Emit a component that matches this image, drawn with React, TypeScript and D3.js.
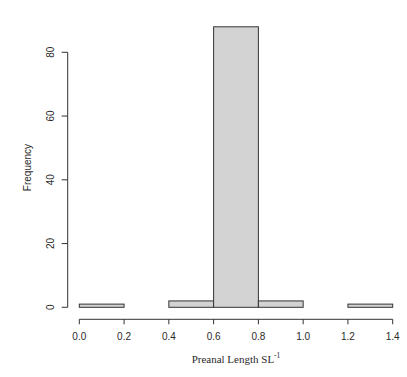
import React from "react";
import * as d3 from "d3";

// Histogram bins (left edges, width 0.2) and their counts
const binStarts = [0.0, 0.2, 0.4, 0.6, 0.8, 1.0, 1.2];
const binWidth = 0.2;
const counts = [1, 0, 2, 88, 2, 0, 1];
const xTicks = [0.0, 0.2, 0.4, 0.6, 0.8, 1.0, 1.2, 1.4];
const yTicks = [0, 20, 40, 60, 80];

const W = 407;
const H = 377;

export default function App() {
  const x = d3.scaleLinear().domain([0, 1.4]).range([79.3, 392.7]);
  const y = d3.scaleLinear().domain([0, 80]).range([307.3, 52.3]);
  const axisColor = "#333";
  const textColor = "#2a2a2a";
  const sans = "'Liberation Sans', Arial, Helvetica, sans-serif";
  const serif = "'Liberation Serif', 'Times New Roman', serif";
  const xAxisY = 319.3;
  const yAxisX = 67.7;

  return (
    <svg
      width={W}
      height={H}
      style={{ position: "absolute", left: 0, top: 0, background: "#fff" }}
    >
      {/* bars */}
      {binStarts.map((s, i) => (
        <rect
          key={i}
          x={x(s)}
          y={y(counts[i])}
          width={x(s + binWidth) - x(s)}
          height={y(0) - y(counts[i])}
          fill="#d3d3d3"
          stroke={axisColor}
          strokeWidth={1}
        />
      ))}

      {/* x axis */}
      <line x1={x(0)} x2={x(1.4)} y1={xAxisY} y2={xAxisY} stroke={axisColor} />
      {xTicks.map((t) => (
        <g key={t}>
          <line x1={x(t)} x2={x(t)} y1={xAxisY} y2={xAxisY + 5} stroke={axisColor} />
          <text
            x={x(t)}
            y={xAxisY + 21}
            textAnchor="middle"
            fontFamily={sans}
            fontSize={10}
            fill={textColor}
          >
            {d3.format(".1f")(t)}
          </text>
        </g>
      ))}

      {/* y axis */}
      <line x1={yAxisX} x2={yAxisX} y1={y(0)} y2={y(80)} stroke={axisColor} />
      {yTicks.map((t) => (
        <g key={t}>
          <line x1={yAxisX - 6} x2={yAxisX} y1={y(t)} y2={y(t)} stroke={axisColor} />
          <text
            transform={`translate(${yAxisX - 14},${y(t)}) rotate(-90)`}
            textAnchor="middle"
            fontFamily={sans}
            fontSize={10}
            fill={textColor}
          >
            {t}
          </text>
        </g>
      ))}

      {/* axis titles */}
      <text
        transform={`translate(30.5,167.5) rotate(-90)`}
        textAnchor="middle"
        fontFamily={sans}
        fontSize={10}
        fill={textColor}
      >
        Frequency
      </text>
      <text
        x={236}
        y={363}
        textAnchor="middle"
        fontFamily={serif}
        fontSize={11}
        fontWeight="normal"
        fill={textColor}
      >
        Preanal Length SL
        <tspan dy={-5} fontSize={7.5}>
          -1
        </tspan>
      </text>
    </svg>
  );
}
